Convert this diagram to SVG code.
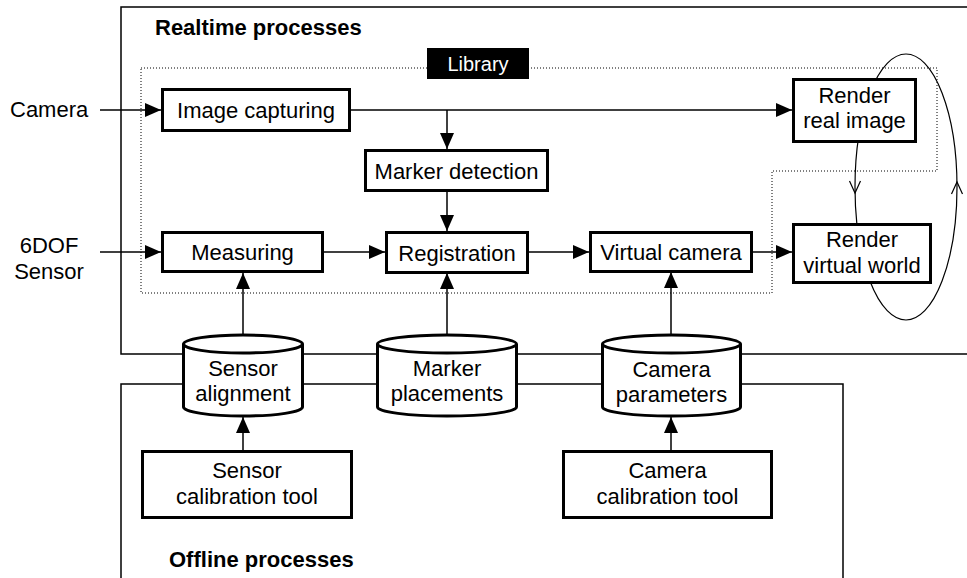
<svg xmlns="http://www.w3.org/2000/svg" width="967" height="578" viewBox="0 0 967 578">
  <style>
    text { font-family: "Liberation Sans", Arial, sans-serif; font-size: 22px; fill: #000; }
    .title { font-weight: bold; }
    .mid { text-anchor: middle; }
    .lib { font-size: 20px; fill: #fff; }
    .frame { fill: none; stroke: #000; stroke-width: 1.5; }
    .dotted { fill: none; stroke: #000; stroke-width: 1; stroke-dasharray: 1 2; }
    .box { fill: #fff; stroke: #000; stroke-width: 3; }
    .wire { fill: none; stroke: #000; stroke-width: 1.5; }
    .thin { fill: none; stroke: #000; stroke-width: 1.2; }
  </style>
  <defs>
    <marker id="tri" markerUnits="userSpaceOnUse" markerWidth="16" markerHeight="14" refX="16" refY="7" orient="auto" viewBox="0 0 16 14">
      <path d="M0,0 L16,7 L0,14 Z" fill="#000"/>
    </marker>
  </defs>

  <rect width="967" height="578" fill="#fff"/>

  <!-- process frames -->
  <g id="realtime-frame">
    <path class="frame" d="M980,7 H121 V354 H980"/>
    <text class="title" x="155" y="35">Realtime processes</text>
  </g>
  <g id="offline-frame">
    <path class="frame" d="M121,590 V384 H843 V590"/>
    <text class="title" x="169" y="567">Offline processes</text>
  </g>

  <!-- library boundary -->
  <g id="library">
    <polygon class="dotted" points="141,68 937,68 937,171 772,171 772,293 141,293"/>
    <rect x="427" y="48" width="102" height="31" fill="#000"/>
    <text class="lib mid" x="478" y="71">Library</text>
  </g>

  <!-- render cycle loop -->
  <g id="render-loop">
    <ellipse class="thin" cx="906" cy="187" rx="51" ry="133"/>
    <polyline class="thin" points="849.5,181 855,193 860.5,181"/>
    <polyline class="thin" points="951.5,194 957,182 962.5,194"/>
  </g>

  <!-- connectors -->
  <g id="connectors">
    <line class="wire" x1="100" y1="110" x2="161" y2="110" marker-end="url(#tri)"/>
    <line class="wire" x1="351" y1="110" x2="792" y2="110" marker-end="url(#tri)"/>
    <line class="wire" x1="447" y1="110" x2="447" y2="149" marker-end="url(#tri)"/>
    <line class="wire" x1="447" y1="192" x2="447" y2="231" marker-end="url(#tri)"/>
    <line class="wire" x1="100" y1="252" x2="161" y2="252" marker-end="url(#tri)"/>
    <line class="wire" x1="324" y1="252" x2="385" y2="252" marker-end="url(#tri)"/>
    <line class="wire" x1="529" y1="252" x2="589" y2="252" marker-end="url(#tri)"/>
    <line class="wire" x1="753" y1="252" x2="792" y2="252" marker-end="url(#tri)"/>
    <line class="wire" x1="243" y1="334" x2="243" y2="273" marker-end="url(#tri)"/>
    <line class="wire" x1="447" y1="334" x2="447" y2="273" marker-end="url(#tri)"/>
    <line class="wire" x1="671" y1="334" x2="671" y2="272" marker-end="url(#tri)"/>
    <line class="wire" x1="243" y1="450" x2="243" y2="417" marker-end="url(#tri)"/>
    <line class="wire" x1="671" y1="451" x2="671" y2="417" marker-end="url(#tri)"/>
  </g>

  <!-- inputs -->
  <g id="camera-input">
    <text x="10" y="117">Camera</text>
  </g>
  <g id="sensor-input">
    <text class="mid" x="49" y="253">6DOF</text>
    <text class="mid" x="49" y="279">Sensor</text>
  </g>

  <!-- realtime nodes -->
  <g id="image-capturing">
    <rect class="box" x="162.5" y="89.5" width="187" height="41"/>
    <text class="mid" x="256" y="118">Image capturing</text>
  </g>
  <g id="marker-detection">
    <rect class="box" x="365.5" y="150.5" width="182" height="40"/>
    <text class="mid" x="456.5" y="178.5">Marker detection</text>
  </g>
  <g id="measuring">
    <rect class="box" x="162.5" y="232.5" width="160" height="39"/>
    <text class="mid" x="242.5" y="260">Measuring</text>
  </g>
  <g id="registration">
    <rect class="box" x="386.5" y="232.5" width="141" height="40"/>
    <text class="mid" x="457" y="260.5">Registration</text>
  </g>
  <g id="virtual-camera">
    <rect class="box" x="590.5" y="232.5" width="161" height="39"/>
    <text class="mid" x="671" y="260">Virtual camera</text>
  </g>
  <g id="render-real-image">
    <rect class="box" x="793.5" y="79.5" width="122" height="62"/>
    <text class="mid" x="854.5" y="103">Render</text>
    <text class="mid" x="854.5" y="128">real image</text>
  </g>
  <g id="render-virtual-world">
    <rect class="box" x="793.5" y="224.5" width="137" height="58"/>
    <text class="mid" x="862" y="247">Render</text>
    <text class="mid" x="862" y="273">virtual world</text>
  </g>

  <!-- data stores -->
  <g id="sensor-alignment">
    <path class="box" d="M183.5,344 A59.5,9 0 0 1 302.5,344 V407 A59.5,9 0 0 1 183.5,407 Z"/>
    <path class="box" fill="none" d="M183.5,344 A59.5,9 0 0 0 302.5,344"/>
    <text class="mid" x="243" y="376">Sensor</text>
    <text class="mid" x="243" y="401">alignment</text>
  </g>
  <g id="marker-placements">
    <path class="box" d="M377.5,344 A69.5,9 0 0 1 516.5,344 V407 A69.5,9 0 0 1 377.5,407 Z"/>
    <path class="box" fill="none" d="M377.5,344 A69.5,9 0 0 0 516.5,344"/>
    <text class="mid" x="447" y="376">Marker</text>
    <text class="mid" x="447" y="401">placements</text>
  </g>
  <g id="camera-parameters">
    <path class="box" d="M602.5,344 A69,9 0 0 1 740.5,344 V407 A69,9 0 0 1 602.5,407 Z"/>
    <path class="box" fill="none" d="M602.5,344 A69,9 0 0 0 740.5,344"/>
    <text class="mid" x="671.5" y="377">Camera</text>
    <text class="mid" x="671.5" y="402">parameters</text>
  </g>

  <!-- offline nodes -->
  <g id="sensor-calibration-tool">
    <rect class="box" x="142.5" y="451.5" width="209" height="66"/>
    <text class="mid" x="247" y="478">Sensor</text>
    <text class="mid" x="247" y="504">calibration tool</text>
  </g>
  <g id="camera-calibration-tool">
    <rect class="box" x="563.5" y="451.5" width="208" height="66"/>
    <text class="mid" x="667.5" y="478">Camera</text>
    <text class="mid" x="667.5" y="504">calibration tool</text>
  </g>
</svg>
